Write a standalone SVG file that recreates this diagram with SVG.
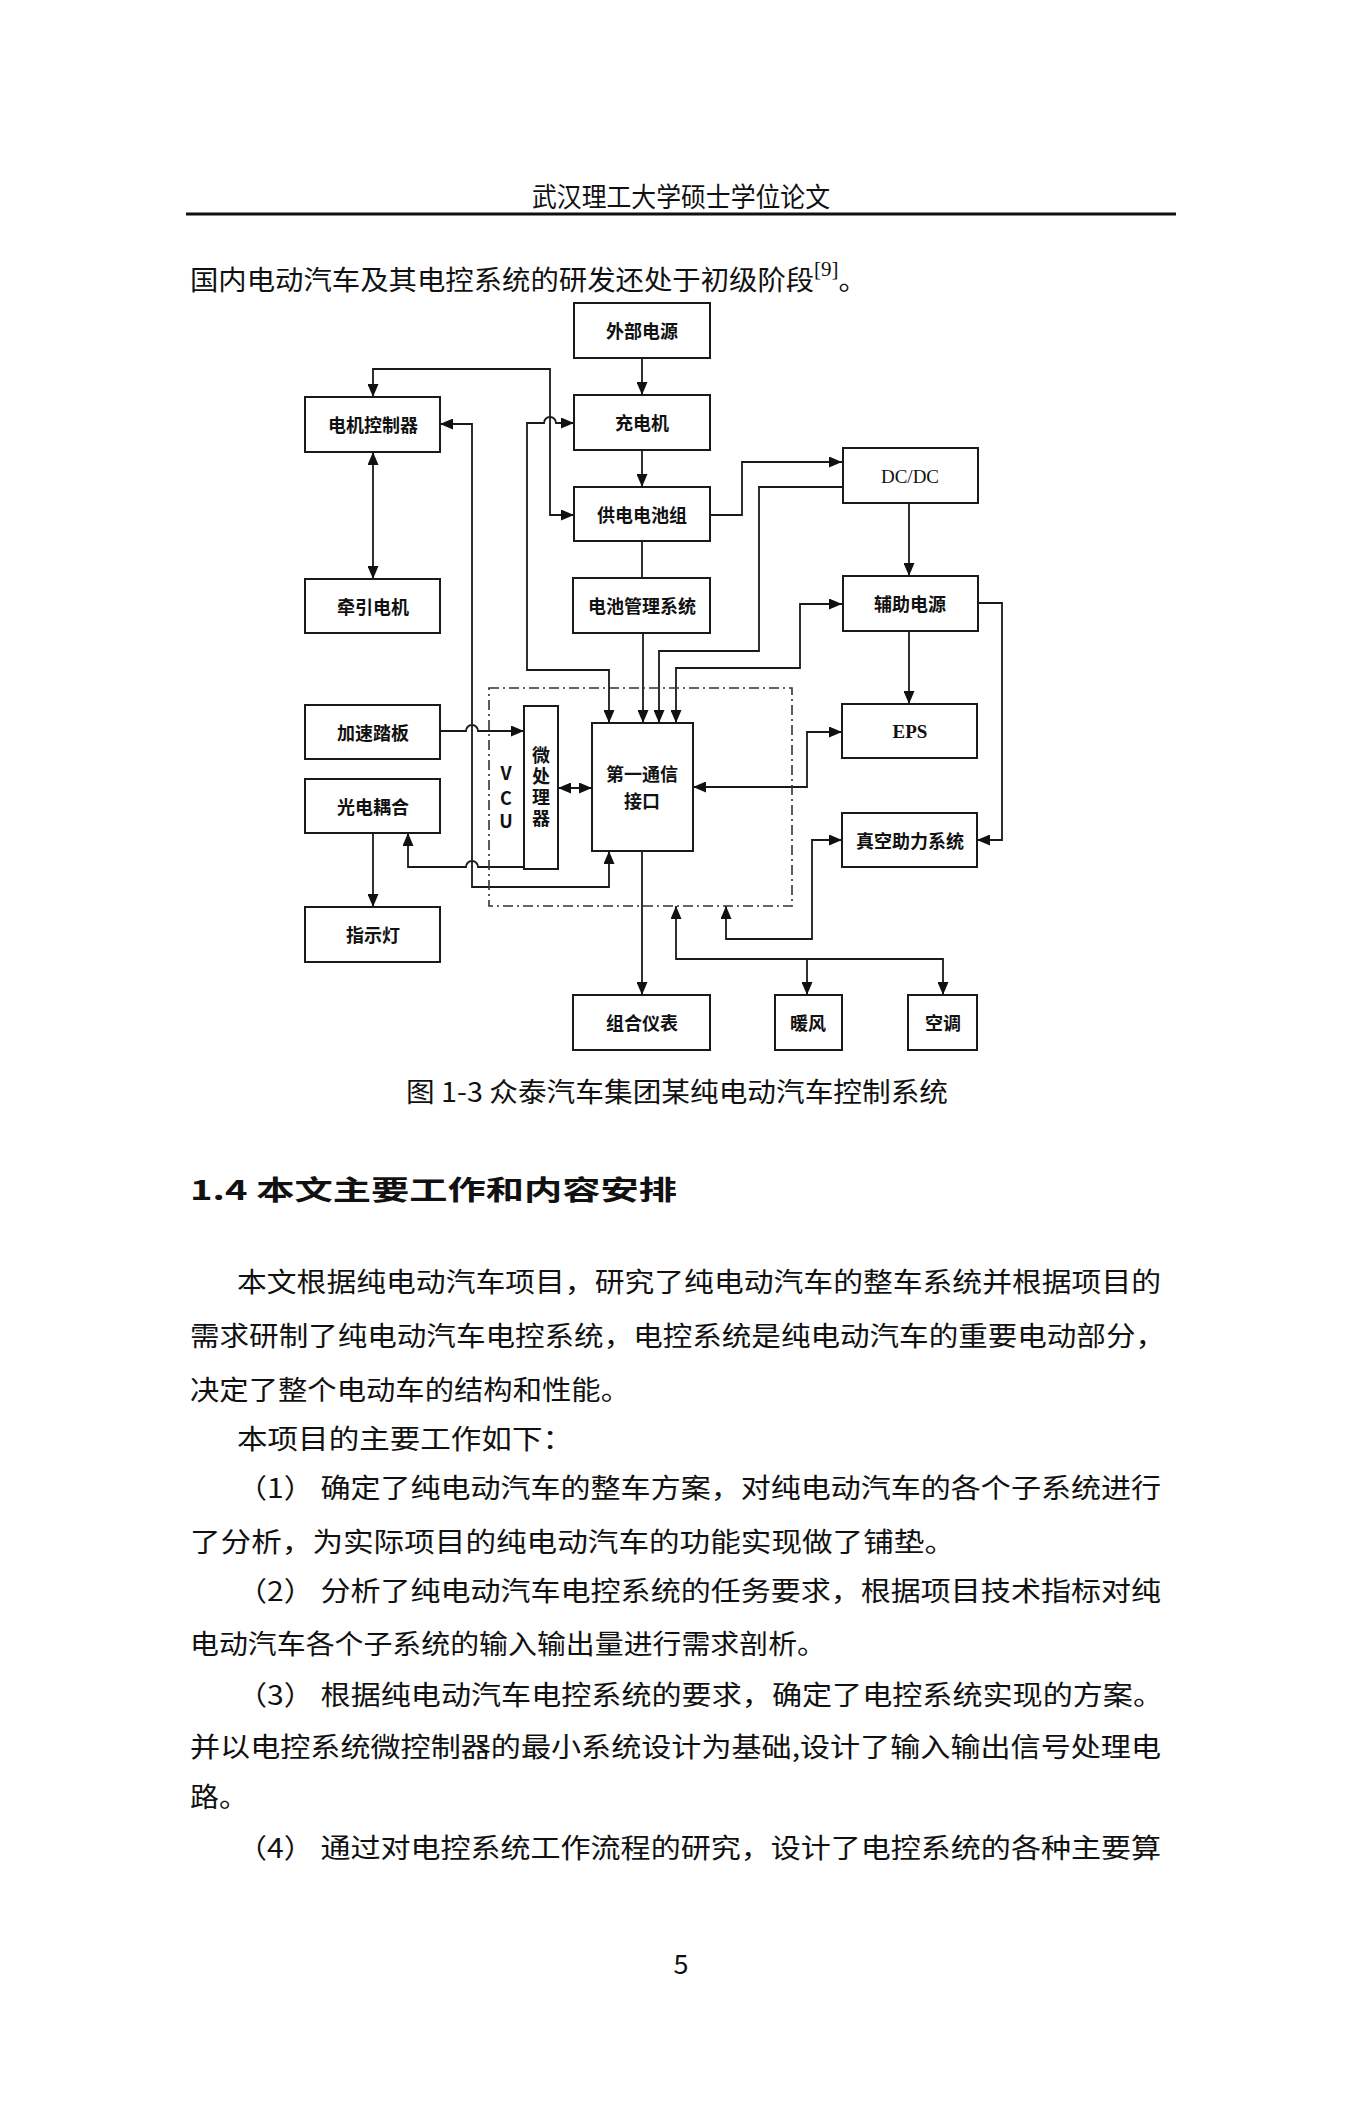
<svg xmlns="http://www.w3.org/2000/svg" width="1345" height="2123" viewBox="0 0 1345 2123">
<style>
  .bx { fill: #fff; stroke: #1a1a1a; stroke-width: 2; }
  .ln { fill: none; stroke: #1a1a1a; stroke-width: 1.8; }
  .dash { fill: none; stroke: #333; stroke-width: 1.6; stroke-dasharray: 10 4 2 4; }
  .nt { font-family: "Noto Sans CJK SC", "Liberation Sans", sans-serif; font-size: 18px; font-weight: 600; fill: #111; text-anchor: middle; dominant-baseline: central; }
  .lt { font-family: "Liberation Serif", "Noto Sans CJK SC", serif; font-size: 19px; fill: #111; text-anchor: middle; dominant-baseline: central; }
  .body { font-family: "Noto Sans CJK SC", "Liberation Serif", sans-serif; font-size: 27px; fill: #111; dominant-baseline: central; }
</style>
<defs>
  <marker id="ah" viewBox="0 0 13 11" refX="13" refY="5.5" markerWidth="13" markerHeight="11" markerUnits="userSpaceOnUse" orient="auto-start-reverse">
    <path d="M0,0 L13,5.5 L0,11 z" fill="#111"/>
  </marker>
</defs>
<rect x="0" y="0" width="1345" height="2123" fill="#fff"/>

<!-- page header -->
<g id="page-header">
  <text class="body" x="532" y="195" font-size="22" textLength="298" lengthAdjust="spacingAndGlyphs">武汉理工大学硕士学位论文</text>
  <line x1="186" y1="214" x2="1176" y2="214" stroke="#111" stroke-width="3"/>
</g>
<text class="body" x="190" y="278" textLength="677" lengthAdjust="spacingAndGlyphs">国内电动汽车及其电控系统的研发还处于初级阶段<tspan font-family="Liberation Serif, serif" font-size="20" dy="-9">[9]</tspan><tspan dy="9">。</tspan></text>

<!-- connectors -->
<g id="connectors">
  <path class="ln" d="M642,358 V395" marker-end="url(#ah)"/>
  <path class="ln" d="M642,450 V487" marker-end="url(#ah)"/>
  <path class="ln" d="M642,541 V578"/>
  <path class="ln" d="M643,633 V723" marker-end="url(#ah)"/>
  <path class="ln" d="M373,397 V369 H550 V515 H574" marker-start="url(#ah)" marker-end="url(#ah)"/>
  <path class="ln" d="M574,423 H556 a6,6 0 0 0 -12,0 H527 V670 H609 V723" marker-start="url(#ah)" marker-end="url(#ah)"/>
  <path class="ln" d="M440,424 H472 V887 H609 V851" marker-start="url(#ah)" marker-end="url(#ah)"/>
  <path class="ln" d="M373,452 V579" marker-start="url(#ah)" marker-end="url(#ah)"/>
  <path class="ln" d="M440,731 H466 a6,6 0 0 1 12,0 H524" marker-end="url(#ah)"/>
  <path class="ln" d="M524,867 H478 a6,6 0 0 0 -12,0 H408 V833" marker-end="url(#ah)"/>
  <path class="ln" d="M373,833 V907" marker-end="url(#ah)"/>
  <path class="ln" d="M558,788 H592" marker-start="url(#ah)" marker-end="url(#ah)"/>
  <path class="ln" d="M710,515 H742 V462 H842" marker-end="url(#ah)"/>
  <path class="ln" d="M843,487 H759 V651 H659 V723" marker-end="url(#ah)"/>
  <path class="ln" d="M676,723 V668 H800 V604 H842" marker-start="url(#ah)" marker-end="url(#ah)"/>
  <path class="ln" d="M909,503 V576" marker-end="url(#ah)"/>
  <path class="ln" d="M909,631 V704" marker-end="url(#ah)"/>
  <path class="ln" d="M693,787 H807 V732 H842" marker-start="url(#ah)" marker-end="url(#ah)"/>
  <path class="ln" d="M977,603 H1002 V840 H977" marker-end="url(#ah)"/>
  <path class="ln" d="M726,906 V939 H812 V840 H842" marker-start="url(#ah)" marker-end="url(#ah)"/>
  <path class="ln" d="M642,851 V995" marker-end="url(#ah)"/>
  <path class="ln" d="M676,906 V959 H943 V995" marker-start="url(#ah)" marker-end="url(#ah)"/>
  <path class="ln" d="M807,959 V995" marker-end="url(#ah)"/>
</g>

<!-- VCU dashed boundary -->
<g id="vcu">
  <rect class="dash" x="489" y="688" width="303" height="218"/>
  <text class="nt" x="506" y="772" font-family="Liberation Sans, sans-serif" font-size="20">V</text>
  <text class="nt" x="506" y="797" font-family="Liberation Sans, sans-serif" font-size="20">C</text>
  <text class="nt" x="506" y="820" font-family="Liberation Sans, sans-serif" font-size="20">U</text>
</g>

<g id="n-waibu"><rect class="bx" x="574" y="303" width="136" height="55"/><text class="nt" x="642" y="330">外部电源</text></g>
<g id="n-chongdianji"><rect class="bx" x="574" y="395" width="136" height="55"/><text class="nt" x="642" y="422">充电机</text></g>
<g id="n-gongdian"><rect class="bx" x="574" y="487" width="136" height="54"/><text class="nt" x="642" y="514">供电电池组</text></g>
<g id="n-bms"><rect class="bx" x="573" y="578" width="137" height="55"/><text class="nt" x="642" y="605">电池管理系统</text></g>
<g id="n-motorctrl"><rect class="bx" x="305" y="397" width="135" height="55"/><text class="nt" x="373" y="424">电机控制器</text></g>
<g id="n-motor"><rect class="bx" x="305" y="579" width="135" height="54"/><text class="nt" x="373" y="606">牵引电机</text></g>
<g id="n-pedal"><rect class="bx" x="305" y="705" width="135" height="54"/><text class="nt" x="373" y="732">加速踏板</text></g>
<g id="n-opto"><rect class="bx" x="305" y="779" width="135" height="54"/><text class="nt" x="373" y="806">光电耦合</text></g>
<g id="n-lamp"><rect class="bx" x="305" y="907" width="135" height="55"/><text class="nt" x="373" y="934">指示灯</text></g>
<g id="n-mcu"><rect class="bx" x="524" y="706" width="34" height="163"/>
  <text class="nt" x="541" y="788" style="writing-mode: vertical-rl; letter-spacing: 3px;" dominant-baseline="auto">微处理器</text></g>
<g id="n-comm"><rect class="bx" x="592" y="723" width="101" height="128"/><text class="nt" x="642" y="773">第一通信</text><text class="nt" x="642" y="800">接口</text></g>
<g id="n-dcdc"><rect class="bx" x="843" y="448" width="135" height="55"/><text class="lt" x="910" y="476">DC/DC</text></g>
<g id="n-aux"><rect class="bx" x="843" y="576" width="135" height="55"/><text class="nt" x="910" y="603">辅助电源</text></g>
<g id="n-eps"><rect class="bx" x="842" y="704" width="135" height="54"/><text class="lt" x="910" y="731" font-weight="bold">EPS</text></g>
<g id="n-vacuum"><rect class="bx" x="842" y="813" width="135" height="54"/><text class="nt" x="910" y="840">真空助力系统</text></g>
<g id="n-cluster"><rect class="bx" x="573" y="995" width="137" height="55"/><text class="nt" x="642" y="1022">组合仪表</text></g>
<g id="n-heater"><rect class="bx" x="775" y="995" width="67" height="55"/><text class="nt" x="808" y="1022">暖风</text></g>
<g id="n-ac"><rect class="bx" x="908" y="995" width="69" height="55"/><text class="nt" x="943" y="1022">空调</text></g>

<!-- caption and body text -->
<text class="body" x="406" y="1090" font-size="27" textLength="542" lengthAdjust="spacingAndGlyphs">图 1-3 众泰汽车集团某纯电动汽车控制系统</text>
<text class="body" x="190" y="1188" font-size="38" font-weight="bold" textLength="487" lengthAdjust="spacingAndGlyphs">1.4 本文主要工作和内容安排</text>

<text class="body" x="237" y="1280" textLength="924" lengthAdjust="spacingAndGlyphs">本文根据纯电动汽车项目，研究了纯电动汽车的整车系统并根据项目的</text>
<text class="body" x="190" y="1334" textLength="975" lengthAdjust="spacingAndGlyphs">需求研制了纯电动汽车电控系统，电控系统是纯电动汽车的重要电动部分，</text>
<text class="body" x="190" y="1388" textLength="440" lengthAdjust="spacingAndGlyphs">决定了整个电动车的结构和性能。</text>
<text class="body" x="237" y="1437" textLength="336" lengthAdjust="spacingAndGlyphs">本项目的主要工作如下：</text>
<text class="body" x="237" y="1486" textLength="924" lengthAdjust="spacingAndGlyphs">（1） 确定了纯电动汽车的整车方案，对纯电动汽车的各个子系统进行</text>
<text class="body" x="190" y="1540" textLength="765" lengthAdjust="spacingAndGlyphs">了分析，为实际项目的纯电动汽车的功能实现做了铺垫。</text>
<text class="body" x="237" y="1589" textLength="924" lengthAdjust="spacingAndGlyphs">（2） 分析了纯电动汽车电控系统的任务要求，根据项目技术指标对纯</text>
<text class="body" x="190" y="1642" textLength="636" lengthAdjust="spacingAndGlyphs">电动汽车各个子系统的输入输出量进行需求剖析。</text>
<text class="body" x="237" y="1693" textLength="926" lengthAdjust="spacingAndGlyphs">（3） 根据纯电动汽车电控系统的要求，确定了电控系统实现的方案。</text>
<text class="body" x="190" y="1745" textLength="971" lengthAdjust="spacingAndGlyphs">并以电控系统微控制器的最小系统设计为基础,设计了输入输出信号处理电</text>
<text class="body" x="190" y="1795" textLength="58" lengthAdjust="spacingAndGlyphs">路。</text>
<text class="body" x="237" y="1846" textLength="924" lengthAdjust="spacingAndGlyphs">（4） 通过对电控系统工作流程的研究，设计了电控系统的各种主要算</text>
<text class="body" x="681" y="1962" font-family="Liberation Serif, serif" font-size="22" text-anchor="middle">5</text>
</svg>
